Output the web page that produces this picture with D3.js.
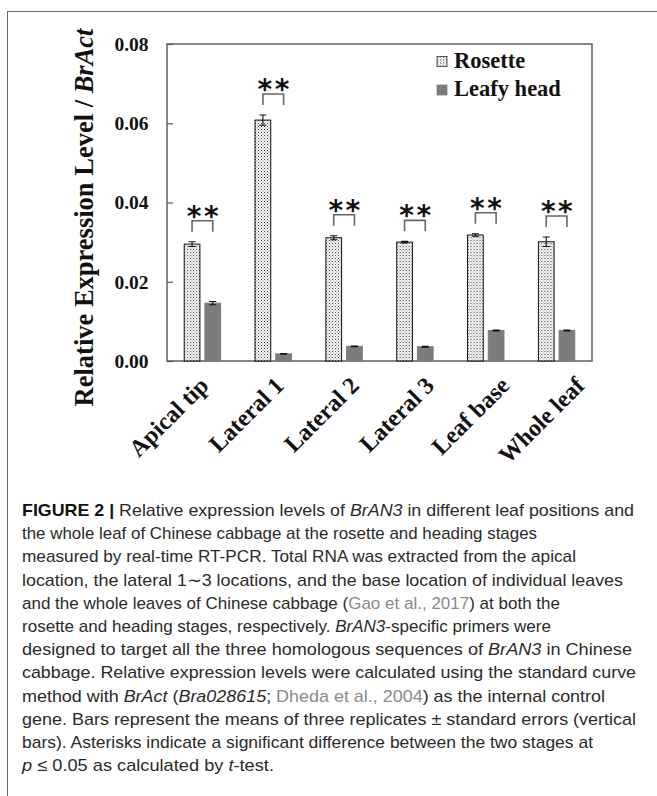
<!DOCTYPE html>
<html>
<head>
<meta charset="utf-8">
<script src="https://cdn.jsdelivr.net/npm/d3@7"></script>
<style>
  html, body { margin: 0; padding: 0; background: #fff; }
  svg { display: block; }
</style>
</head>
<body>
<svg id="fig" width="657" height="796"></svg>
<script>
// Sampling sites along the leaf
const categories = ["Apical tip", "Lateral 1", "Lateral 2", "Lateral 3", "Leaf base", "Whole leaf"];
const seriesNames = ["Rosette", "Leafy head"];
// Relative expression (BrAN3 / BrAct), means and standard errors
const rosette     = [0.0295, 0.0608, 0.0311, 0.0300, 0.0318, 0.0301];
const rosetteErr  = [0.0006, 0.0013, 0.0005, 0.0002, 0.0003, 0.0012];
const leafyHead   = [0.0146, 0.0018, 0.0037, 0.0036, 0.0077, 0.0077];
const leafyErr    = [0.0004, 0.0001, 0.0001, 0.0001, 0.0001, 0.0001];
const significance = ["**", "**", "**", "**", "**", "**"];
const yTicks = [0, 0.02, 0.04, 0.06, 0.08];

// Caption lines: [text, style] with b = bold, i = italic, l = reference link, n = plain
const captionLines = [
  [["FIGURE 2 |", "b"], [" Relative expression levels of ", "n"], ["BrAN3", "i"], [" in different leaf positions and", "n"]],
  [["the whole leaf of Chinese cabbage at the rosette and heading stages", "n"]],
  [["measured by real-time RT-PCR. Total RNA was extracted from the apical", "n"]],
  [["location, the lateral 1\u223c3 locations, and the base location of individual leaves", "n"]],
  [["and the whole leaves of Chinese cabbage (", "n"], ["Gao et al., 2017", "l"], [") at both the", "n"]],
  [["rosette and heading stages, respectively. ", "n"], ["BrAN3", "i"], ["-specific primers were", "n"]],
  [["designed to target all the three homologous sequences of ", "n"], ["BrAN3", "i"], [" in Chinese", "n"]],
  [["cabbage. Relative expression levels were calculated using the standard curve", "n"]],
  [["method with ", "n"], ["BrAct", "i"], [" (", "n"], ["Bra028615", "i"], ["; ", "n"], ["Dheda et al., 2004", "l"], [") as the internal control", "n"]],
  [["gene. Bars represent the means of three replicates \u00b1 standard errors (vertical", "n"]],
  [["bars). Asterisks indicate a significant difference between the two stages at", "n"]],
  [["p", "i"], [" \u2264 0.05 as calculated by ", "n"], ["t", "i"], ["-test.", "n"]]
];
// Set width of each caption line (justified-style typesetting)
const captionWidths = [612, 515, 554, 601, 538, 529, 610, 614, 583, 614, 571, 252];

const svg = d3.select("#fig");
const serif = "'Liberation Serif', 'Times New Roman', serif";
const sans = "'Liberation Sans', Arial, sans-serif";

// Figure panel border (left and top edges fall inside the page)
svg.append("rect")
  .attr("x", 7.5).attr("y", 11.5)
  .attr("width", 700).attr("height", 820)
  .attr("fill", "none").attr("stroke", "#666").attr("stroke-width", 1);

// Stipple pattern for the rosette bars
const defs = svg.append("defs");
const pat = defs.append("pattern")
  .attr("id", "stipple").attr("patternUnits", "userSpaceOnUse")
  .attr("width", 3).attr("height", 3);
pat.append("rect").attr("width", 3).attr("height", 3).attr("fill", "#fff");
pat.append("rect").attr("x", 0).attr("y", 0).attr("width", 1).attr("height", 1).attr("fill", "#333");
pat.append("rect").attr("x", 1.5).attr("y", 1.5).attr("width", 1).attr("height", 1).attr("fill", "#666");

const plot = { left: 167, right: 592, top: 44, bottom: 361 };

const x = d3.scaleBand().domain(categories)
  .range([plot.left, plot.right]).paddingInner(0.486).paddingOuter(0.243);
const xs = d3.scaleBand().domain(seriesNames)
  .range([0, x.bandwidth()]).paddingInner(0.242);
const y = d3.scaleLinear().domain([0, 0.08]).range([plot.bottom, plot.top]);
// Anchor points for the slanted category labels
const xLabel = d3.scalePoint().domain(categories).range([210, 586]);

// Y axis with inward ticks
const yAxis = svg.append("g")
  .attr("transform", `translate(${plot.left},0)`)
  .call(d3.axisLeft(y).tickValues(yTicks).tickFormat(d3.format(".2f"))
    .tickSize(-6).tickPadding(18.5));
yAxis.select(".domain").remove();
yAxis.selectAll(".tick line").attr("stroke", "#555").attr("stroke-width", 1.2);
yAxis.selectAll(".tick text")
  .attr("font-family", serif).attr("font-weight", "bold")
  .attr("font-size", 19.5).attr("fill", "#111");

// Plot frame
svg.append("rect")
  .attr("x", plot.left).attr("y", plot.top)
  .attr("width", plot.right - plot.left).attr("height", plot.bottom - plot.top)
  .attr("fill", "none").attr("stroke", "#555").attr("stroke-width", 1.4);

const rows = categories.map((c, i) => ({
  cat: c,
  bars: [
    { s: "Rosette", v: rosette[i], e: rosetteErr[i] },
    { s: "Leafy head", v: leafyHead[i], e: leafyErr[i] }
  ],
  sig: significance[i]
}));

const groups = svg.append("g").selectAll("g").data(rows).join("g")
  .attr("transform", d => `translate(${x(d.cat)},0)`);

// Bars
groups.selectAll("rect.bar").data(d => d.bars).join("rect")
  .attr("class", "bar")
  .attr("x", d => xs(d.s))
  .attr("y", d => y(d.v))
  .attr("width", xs.bandwidth())
  .attr("height", d => y(0) - y(d.v))
  .attr("fill", d => d.s === "Rosette" ? "url(#stipple)" : "#7c7c7c")
  .attr("stroke", d => d.s === "Rosette" ? "#111" : "#7c7c7c")
  .attr("stroke-width", 1);

// Error bars
const capHalf = 3.5;
groups.selectAll("path.err").data(d => d.bars).join("path")
  .attr("class", "err")
  .attr("d", d => {
    const cx = xs(d.s) + xs.bandwidth() / 2;
    const y1 = y(d.v + d.e), y0 = y(d.v - d.e);
    return `M${cx},${y0}V${y1}M${cx - capHalf},${y1}H${cx + capHalf}M${cx - capHalf},${y0}H${cx + capHalf}`;
  })
  .attr("fill", "none").attr("stroke", "#111").attr("stroke-width", 1.1);

// Significance brackets between the two stages
const bracketGap = 10, legLen = 11;
groups.append("path")
  .attr("d", d => {
    const r = d.bars[0];
    const xa = xs("Rosette") + xs.bandwidth() / 2;
    const xb = xs("Leafy head") + xs.bandwidth() / 2;
    const yb = y(r.v + r.e) - bracketGap;
    const yt = yb - legLen;
    return `M${xa},${yb}V${yt}H${xb}V${yb}`;
  })
  .attr("fill", "none").attr("stroke", "#666").attr("stroke-width", 1.6);

groups.append("text")
  .attr("x", x.bandwidth() / 2 + 1.5)
  .attr("y", d => y(d.bars[0].v + d.bars[0].e) - bracketGap - legLen + 5)
  .attr("text-anchor", "middle")
  .attr("font-family", "'DejaVu Sans', sans-serif")
  .attr("font-weight", "bold")
  .attr("font-size", 28)
  .attr("letter-spacing", 2.5)
  .attr("fill", "#111")
  .text(d => d.sig);

// Category labels, slanted
svg.append("g").selectAll("text").data(categories).join("text")
  .attr("transform", d => `translate(${xLabel(d)},387) rotate(-45)`)
  .attr("text-anchor", "end")
  .attr("font-family", serif).attr("font-weight", "bold")
  .attr("font-size", 24).attr("fill", "#111")
  .text(d => d);

// Y axis title
const yt = svg.append("text")
  .attr("transform", "translate(93,217.5) rotate(-90)")
  .attr("text-anchor", "middle")
  .attr("font-family", serif).attr("font-weight", "bold")
  .attr("font-size", 26.5).attr("fill", "#111");
yt.append("tspan").text("Relative Expression Level / ");
yt.append("tspan").attr("font-style", "italic").text("BrAct");

// Legend
const legend = svg.append("g").selectAll("g").data(seriesNames).join("g")
  .attr("transform", (d, i) => `translate(437,${56.5 + i * 28.5})`);
legend.append("rect")
  .attr("width", 10).attr("height", 10)
  .attr("fill", d => d === "Rosette" ? "url(#stipple)" : "#7c7c7c")
  .attr("stroke", d => d === "Rosette" ? "#333" : "#7c7c7c").attr("stroke-width", 0.8);
legend.append("text")
  .attr("x", 17).attr("y", 11)
  .attr("font-family", serif).attr("font-weight", "bold")
  .attr("font-size", 22.5).attr("fill", "#111")
  .text(d => d);

// Caption
const cap = svg.append("g").attr("font-family", sans).attr("font-size", 17).attr("fill", "#2a2a2a");
captionLines.forEach((segs, i) => {
  const t = cap.append("text").attr("x", 22).attr("y", 516 + i * 23.2)
    .attr("textLength", captionWidths[i]).attr("lengthAdjust", "spacingAndGlyphs");
  segs.forEach(([txt, st]) => {
    const s = t.append("tspan").text(txt);
    if (st === "b") s.attr("font-weight", "bold").attr("fill", "#111");
    if (st === "i") s.attr("font-style", "italic");
    if (st === "l") s.attr("fill", "#8a8a8a");
  });
});
</script>
</body>
</html>
